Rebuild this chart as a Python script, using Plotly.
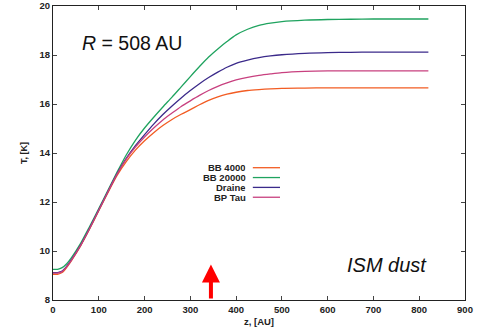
import plotly.graph_objects as go

z = [0, 10, 20, 30, 40, 60, 80, 100, 120, 140, 160, 180, 200, 220, 240, 260, 280, 300,
     320, 340, 360, 380, 400, 425, 450, 475, 500, 550, 600, 650, 700, 750, 800, 820]

bb4000 = [9.05, 9.05, 9.12, 9.33, 9.6, 10.2, 10.9, 11.64, 12.38, 13.08, 13.65, 14.12,
          14.5, 14.83, 15.12, 15.37, 15.58, 15.77, 15.97, 16.15, 16.29, 16.4, 16.48, 16.55,
          16.59, 16.62, 16.64, 16.65, 16.66, 16.66, 16.66, 16.66, 16.66, 16.66]
bb20000 = [9.25, 9.25, 9.32, 9.48, 9.72, 10.3, 11.0, 11.73, 12.48, 13.22, 13.92, 14.52,
           15.02, 15.46, 15.88, 16.28, 16.7, 17.12, 17.53, 17.92, 18.25, 18.55, 18.82, 19.05,
           19.21, 19.3, 19.36, 19.42, 19.45, 19.46, 19.47, 19.47, 19.47, 19.47]
draine = [9.12, 9.12, 9.18, 9.38, 9.64, 10.23, 10.93, 11.68, 12.43, 13.16, 13.78, 14.3,
          14.75, 15.18, 15.57, 15.92, 16.25, 16.55, 16.83, 17.08, 17.3, 17.5, 17.66, 17.79,
          17.89, 17.96, 18.01, 18.07, 18.1, 18.11, 18.12, 18.12, 18.12, 18.12]
bptau = [9.1, 9.1, 9.16, 9.36, 9.62, 10.22, 10.92, 11.67, 12.42, 13.14, 13.75, 14.24,
         14.65, 15.02, 15.35, 15.63, 15.9, 16.13, 16.35, 16.55, 16.72, 16.86, 16.98, 17.09,
         17.17, 17.23, 17.28, 17.33, 17.35, 17.35, 17.35, 17.35, 17.35, 17.35]

names = ["BB 4000", "BB 20000", "Draine", "BP Tau"]
series = [bb4000, bb20000, draine, bptau]
colors = ["#f25c23", "#1fa35f", "#3b2a8a", "#c8407f"]

x_ticks = [0, 100, 200, 300, 400, 500, 600, 700, 800, 900]
y_ticks = [8, 10, 12, 14, 16, 18, 20]

arrow_z = 345
arrow_base = 8
arrow_tip = 9.45

FONT = "Liberation Sans, Arial"

fig = go.Figure()
for n, s, c in zip(names, series, colors):
    fig.add_trace(go.Scatter(x=z, y=s, mode="lines", name=n,
                             line=dict(color=c, width=1.3, shape="spline", smoothing=0.7),
                             showlegend=False))

# manual legend (text left, line right)
leg_y0 = 0.450
leg_dy = 0.0335
for i, (n, c) in enumerate(zip(names, colors)):
    yy = leg_y0 - i * leg_dy
    fig.add_annotation(xref="paper", yref="paper", x=0.471, y=yy, text="<b>" + n + "</b>",
                       showarrow=False, xanchor="right", yanchor="middle", height=9,
                       borderpad=0,
                       font=dict(family=FONT, size=9.5, color="#222"))
    fig.add_shape(type="line", xref="paper", yref="paper", x0=0.485, x1=0.551,
                  y0=yy, y1=yy, line=dict(color=c, width=1.3))

fig.add_annotation(x=arrow_z, y=arrow_tip, ax=arrow_z, ay=arrow_base, xref="x", yref="y",
                   axref="x", ayref="y", showarrow=True, arrowhead=2, arrowsize=0.9,
                   arrowwidth=4, arrowcolor="#ff0000", text="")

fig.add_annotation(xref="paper", yref="paper", x=0.065, y=0.875, xanchor="left",
                   yanchor="middle", showarrow=False, text="<i>R</i> = 508 AU",
                   font=dict(family=FONT, size=19.5, color="#111"))
fig.add_annotation(xref="paper", yref="paper", x=0.912, y=0.118, xanchor="right",
                   yanchor="middle", showarrow=False, text="<i>ISM dust</i>",
                   font=dict(family=FONT, size=20, color="#111"))

axis_common = dict(showgrid=False, zeroline=False, showline=True, linecolor="#222",
                   linewidth=1.2, mirror="ticks", ticks="inside", ticklen=4,
                   tickcolor="#444", automargin=False,
                   tickfont=dict(family=FONT, size=9.5, color="#222"))

fig.update_layout(
    width=487, height=333,
    margin=dict(l=53, r=22, t=6, b=33),
    paper_bgcolor="white", plot_bgcolor="white",
    xaxis=dict(range=[0, 900], tickvals=x_ticks,
               ticktext=["<b>%d</b>" % v for v in x_ticks],
               title=dict(text="<b>z, [AU]</b>", standoff=4,
                          font=dict(family=FONT, size=9.5, color="#222")),
               **axis_common),
    yaxis=dict(range=[8, 20], tickvals=y_ticks,
               ticktext=["<b>%d</b>" % v for v in y_ticks],
               title=dict(text="<b>T, [K]</b>", standoff=10,
                          font=dict(family=FONT, size=9, color="#222")),
               **axis_common),
)

fig.write_html("out.html", config={"displayModeBar": False},
               post_script="document.body.style.margin='0';document.body.style.padding='0';")
